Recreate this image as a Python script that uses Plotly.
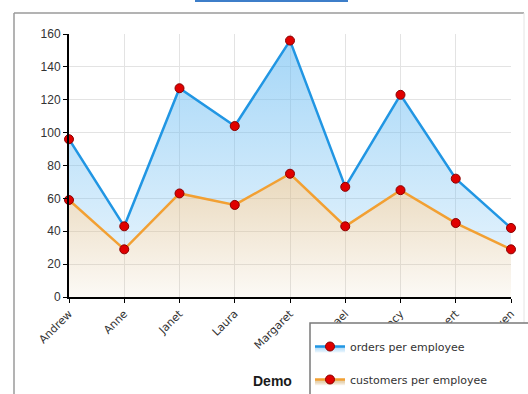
import plotly.graph_objects as go

employees = ["Andrew", "Anne", "Janet", "Laura", "Margaret", "Michael", "Nancy", "Robert", "Steven"]
orders_per_employee = [96, 43, 127, 104, 156, 67, 123, 72, 42]
customers_per_employee = [59, 29, 63, 56, 75, 43, 65, 45, 29]
y_ticks = [0, 20, 40, 60, 80, 100, 120, 140, 160]

W, H = 528, 394
L, R, T, B = 69, 511, 34, 297  # plot area in pixels


def px(x):
    return (x - L) / (R - L)


def py(y):
    return (B - y) / (B - T)


marker_style = dict(color="#e00000", size=9, line=dict(color="#8a0000", width=1))

fig = go.Figure()

fig.add_trace(go.Scatter(
    x=employees, y=customers_per_employee, name="customers per employee",
    mode="lines+markers", fill="tozeroy", legendrank=2, legendgroup="c",
    line=dict(color="#f2a033", width=2.5),
    marker=marker_style,
    fillgradient=dict(type="vertical", start=0, stop=160,
                      colorscale=[[0, "rgba(217,187,137,0.08)"],
                                  [0.5, "rgba(217,187,137,0.6)"],
                                  [1, "rgba(217,187,137,0.8)"]]),
    cliponaxis=False,
))

fig.add_trace(go.Scatter(
    x=employees, y=orders_per_employee, name="orders per employee",
    mode="lines+markers", fill="tonexty", legendrank=1, legendgroup="o",
    line=dict(color="#2196e3", width=2.5),
    marker=marker_style,
    fillgradient=dict(type="vertical", start=0, stop=160,
                      colorscale=[[0, "rgba(107,188,242,0.12)"],
                                  [1, "rgba(107,188,242,0.62)"]]),
    cliponaxis=False,
))

shapes = [
    # panel frame
    dict(type="line", xref="paper", yref="paper", x0=px(14), x1=px(524), y0=py(13), y1=py(13),
         line=dict(color="#9a9a9a", width=1.5)),
    dict(type="line", xref="paper", yref="paper", x0=px(14), x1=px(14), y0=py(13), y1=py(400),
         line=dict(color="#9a9a9a", width=1.5)),
    dict(type="line", xref="paper", yref="paper", x0=px(524), x1=px(524), y0=py(13), y1=py(400),
         line=dict(color="#e4e4e4", width=1)),
    # header strip
    dict(type="rect", xref="paper", yref="paper", x0=px(195), x1=px(348), y0=py(0), y1=py(2),
         line=dict(width=0), fillcolor="#3d7ec9"),
    # legend box
    dict(type="rect", xref="paper", yref="paper", x0=px(310), x1=px(535), y0=py(323), y1=py(400),
         line=dict(color="#7a7a7a", width=1.5), fillcolor="white", layer="above"),
]

fig.update_layout(
    width=W, height=H,
    margin=dict(l=L, r=W - R, t=T, b=H - B, autoexpand=False),
    paper_bgcolor="white", plot_bgcolor="white",
    font=dict(family="Liberation Sans, Arial, sans-serif", color="#333333", size=11),
    shapes=shapes,
    showlegend=True,
    legend=dict(xref="container", yref="container", x=310 / W, y=1 - 332 / H,
                xanchor="left", yanchor="top", bgcolor="rgba(0,0,0,0)", borderwidth=0,
                tracegroupgap=14, traceorder="grouped",
                font=dict(family="DejaVu Sans, Verdana, sans-serif", size=11, color="#333333")),
    annotations=[dict(text="Demo", xref="paper", yref="paper", x=px(272), y=py(381),
                      showarrow=False,
                      font=dict(family="Liberation Sans, Arial, sans-serif", size=14,
                                color="#1a1a1a", weight="bold"),
                      xanchor="center", yanchor="middle")],
)

fig.update_xaxes(
    type="category", range=[0, len(employees) - 1],
    showline=True, linecolor="black", linewidth=2,
    ticks="outside", ticklen=4, tickcolor="black", tickwidth=1,
    tickangle=-45,
    tickfont=dict(family="DejaVu Sans, Verdana, sans-serif", size=11, color="#333333"),
    showgrid=True, gridcolor="#e3e3e3", gridwidth=1, zeroline=False,
)
fig.update_yaxes(
    range=[0, 160], tickvals=y_ticks,
    showline=True, linecolor="black", linewidth=2,
    ticks="outside", ticklen=4, tickcolor="black", tickwidth=1,
    tickfont=dict(size=12, color="#333333"),
    showgrid=True, gridcolor="#e3e3e3", gridwidth=1, zeroline=False,
)

fig.write_html("out.html")
